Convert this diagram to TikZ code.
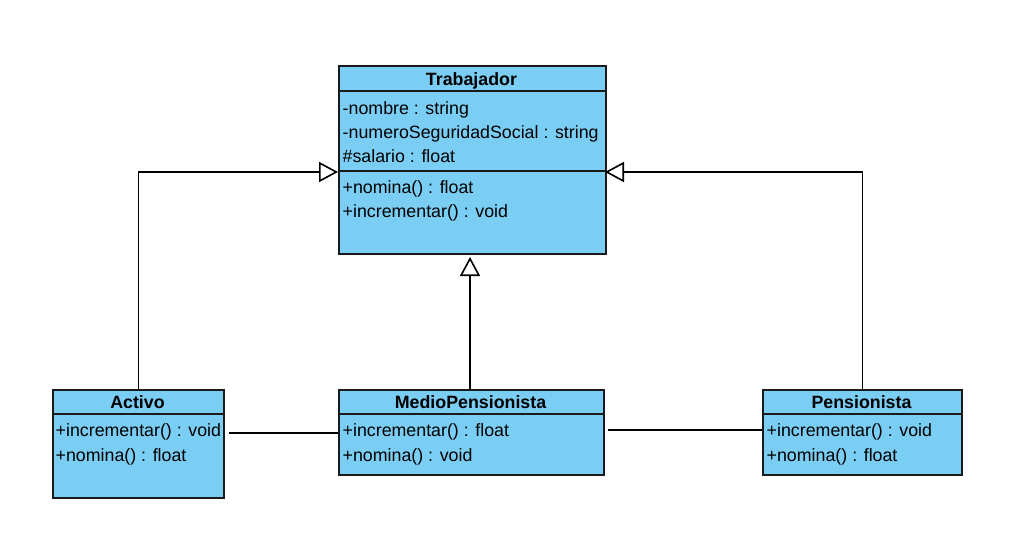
\documentclass[tikz,border=0pt]{standalone}
\usepackage{fontspec}
\setmainfont{Liberation Sans}
\usetikzlibrary{arrows.meta,calc}
\definecolor{classfill}{HTML}{7ACEF4}
\definecolor{classline}{HTML}{1A1A1A}
\tikzset{
  classbox/.style={draw=classline, line width=1.8pt, fill=classfill, anchor=north west, inner sep=0pt},
  sep/.style={draw=classline, line width=1.8pt},
  title/.style={font=\fontsize{17.8}{20}\selectfont\bfseries, inner sep=0pt, anchor=base},
  member/.style={font=\fontsize{17.8}{20}\selectfont, anchor=base west, inner sep=0pt},
  conn/.style={draw=black, line width=1.8pt},
  inh/.style={conn, -{Triangle[open, length=19pt, width=20pt, line width=1.6pt]}},
}
\begin{document}
\begin{tikzpicture}[x=1pt,y=-1pt]
\useasboundingbox (0,0) rectangle (1013,547);
% Trabajador
\node[classbox, minimum width=267pt, minimum height=188pt] (trab) at (338,65) {};
\draw[sep] ($(trab.north west)+(0,26)$) -- ($(trab.north east)+(0,26)$);
\draw[sep] ($(trab.north west)+(0,106)$) -- ($(trab.north east)+(0,106)$);
\node[title] (trabT) at (471.5,85) {Trabajador};
\node[member] (t1) at (342.5,114) {-nombre : string};
\node[member] (t2) at (342.5,138.5) {-numeroSeguridadSocial : string};
\node[member] (t3) at (342.5,162) {\#salario : float};
\node[member] (t4) at (342.5,193) {+nomina() : float};
\node[member] (t5) at (342.5,217) {+incrementar() : void};
% Activo
\node[classbox, minimum width=171pt, minimum height=108pt] (act) at (52,389) {};
\draw[sep] ($(act.north west)+(0,25)$) -- ($(act.north east)+(0,25)$);
\node[title] (actT) at (137.5,408.5) {Activo};
\node[member] (a1) at (55.5,436.5) {+incrementar() : void};
\node[member] (a2) at (55.5,461) {+nomina() : float};
% MedioPensionista
\node[classbox, minimum width=265pt, minimum height=85pt] (med) at (338,389) {};
\draw[sep] ($(med.north west)+(0,25)$) -- ($(med.north east)+(0,25)$);
\node[title] (medT) at (470.5,408.5) {MedioPensionista};
\node[member] (m1) at (342.5,436.5) {+incrementar() : float};
\node[member] (m2) at (342.5,461) {+nomina() : void};
% Pensionista
\node[classbox, minimum width=199pt, minimum height=85pt] (pen) at (762,389) {};
\draw[sep] ($(pen.north west)+(0,25)$) -- ($(pen.north east)+(0,25)$);
\node[title] (penT) at (861.5,408.5) {Pensionista};
\node[member] (p1) at (766.5,436.5) {+incrementar() : void};
\node[member] (p2) at (766.5,461) {+nomina() : float};
% connectors
\coordinate (trabL) at (338,172);
\coordinate (trabR) at (605,172);
\coordinate (trabB) at (470,257);
\coordinate (actR) at (229,433);
\coordinate (medR) at (608,430);
\draw[inh] (act.north) |- (trabL);
\draw[inh] (pen.north) |- (trabR);
\draw[inh] (med.north -| trabB) -- (trabB);
\draw[conn] (actR) -- (actR -| med.west);
\draw[conn] (medR) -- (medR -| pen.west);
\end{tikzpicture}
\end{document}
